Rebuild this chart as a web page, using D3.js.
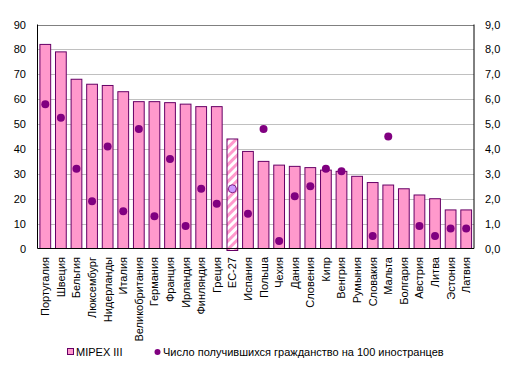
<!DOCTYPE html>
<html><head><meta charset="utf-8">
<script src="https://cdn.jsdelivr.net/npm/d3@7"></script>
<style>body{margin:0;background:#fff}svg{font-family:"Liberation Sans",Arial,sans-serif}</style>
</head><body><svg id="c" width="515" height="372"></svg>
<script>
const categories = ["Португалия","Швеция","Бельгия","Люксембург","Нидерланды","Италия","Великобритания","Германия","Франция","Ирландия","Финляндия","Греция","ЕС-27","Испания","Польша","Чехия","Дания","Словения","Кипр","Венгрия","Румыния","Словакия","Мальта","Болгария","Австрия","Литва","Эстония","Латвия"];
const mipex = [82,79,68,66,65.5,63,59,59,58.6,58,57,57,44,39,35,33.5,33,32.5,31.5,31,29,26.5,25.5,24,21.5,20,15.5,15.5];
const naturalised = [5.8,5.25,3.2,1.9,4.1,1.5,4.8,1.3,3.6,0.9,2.4,1.8,2.4,1.4,4.8,0.3,2.1,2.5,3.2,3.1,null,0.5,4.5,null,0.9,0.5,0.8,0.8];
const leftTicks = [0,10,20,30,40,50,60,70,80,90];
const rightTicks = [0,1,2,3,4,5,6,7,8,9];
const highlight = "ЕС-27";

const svg = d3.select("#c");
const L = 37.5, R = 474, T = 24.5, B = 248.5;
const x = d3.scaleBand().domain(categories).range([L, R]).paddingInner(0.31).paddingOuter(0.155);
const y = d3.scaleLinear().domain([0, 90]).range([B, T]);
const y2 = d3.scaleLinear().domain([0, 9]).range([B, T]);

const defs = svg.append("defs");
const pat = defs.append("pattern").attr("id","hatch").attr("patternUnits","userSpaceOnUse")
  .attr("width",6).attr("height",6).attr("patternTransform","rotate(45)");
pat.append("rect").attr("width",6).attr("height",6).attr("fill","#fff");
pat.append("rect").attr("width",3).attr("height",6).attr("fill","#ff99cc");

// gridlines
svg.append("g").selectAll("line").data(leftTicks.slice(1)).join("line")
  .attr("x1",L).attr("x2",R).attr("y1",d=>Math.round(y(d))+0.5).attr("y2",d=>Math.round(y(d))+0.5)
  .attr("stroke",d=>d===90?"#808080":"#c0c0c0").attr("stroke-width",1);

// bars
svg.append("g").selectAll("rect").data(categories).join("rect")
  .attr("x",d=>x(d)).attr("width",x.bandwidth())
  .attr("y",(d,i)=>y(mipex[i])).attr("height",(d,i)=>B-y(mipex[i]) + (d===highlight?2:0))
  .attr("fill",d=>d===highlight?"url(#hatch)":"#ff99cc")
  .attr("stroke","#660066").attr("stroke-width",1);

// axes
const ax = svg.append("g").attr("font-size",11).attr("fill","#000");
ax.append("line").attr("x1",L).attr("x2",L).attr("y1",T).attr("y2",B).attr("stroke","#000");
ax.append("line").attr("x1",R).attr("x2",R).attr("y1",T).attr("y2",B).attr("stroke","#000");
ax.append("line").attr("x1",L).attr("x2",R).attr("y1",B).attr("y2",B).attr("stroke","#000");
ax.selectAll("text.l").data(leftTicks).join("text").attr("class","l")
  .attr("x",26).attr("y",d=>y(d)+4).attr("text-anchor","end").text(d=>d);
ax.selectAll("text.r").data(rightTicks).join("text").attr("class","r")
  .attr("x",485).attr("y",d=>y2(d)+4).attr("text-anchor","start").text(d=>d.toFixed(1).replace(".",","));

// category labels
ax.selectAll("text.c").data(categories).join("text").attr("class","c")
  .attr("transform",d=>`translate(${x(d)+x.bandwidth()/2+4},257) rotate(-90)`)
  .attr("text-anchor","end").text(d=>d);

// dots
svg.append("g").selectAll("circle").data(categories.map((c,i)=>({c,v:naturalised[i]})).filter(d=>d.v!=null)).join("circle")
  .attr("cx",d=>x(d.c)+x.bandwidth()/2).attr("cy",d=>y2(d.v)).attr("r",4)
  .attr("fill",d=>d.c===highlight?"#cc99ff":"#800080")
  .attr("stroke",d=>d.c===highlight?"#660066":"#800080").attr("stroke-width",d=>d.c===highlight?0.8:0);

// legend
const lg = svg.append("g").attr("font-size",11);
lg.append("rect").attr("x",67.5).attr("y",348.5).attr("width",6).attr("height",6).attr("fill","#ff99cc").attr("stroke","#660066");
lg.append("text").attr("x",76).attr("y",356).text("MIPEX III");
lg.append("circle").attr("cx",157.5).attr("cy",352).attr("r",3).attr("fill","#800080");
lg.append("text").attr("x",163).attr("y",356).text("Число получившихся гражданство на 100 иностранцев");
</script></body></html>
